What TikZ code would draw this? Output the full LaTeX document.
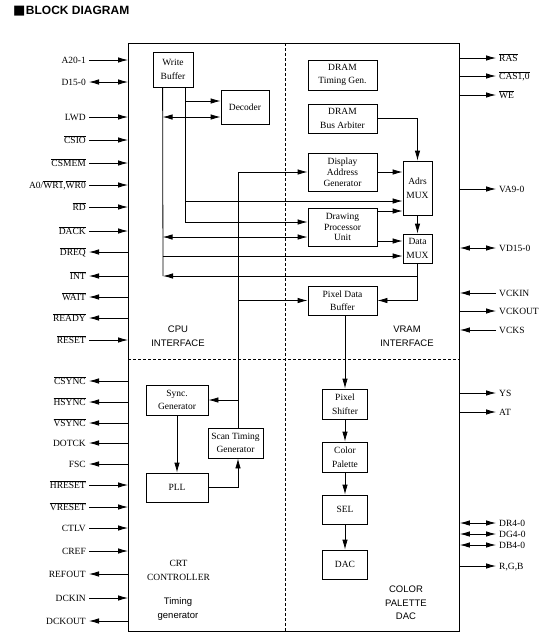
\documentclass[tikz,border=0pt]{standalone}
\usepackage{fontspec}
\setmainfont{Liberation Serif}
\setsansfont{Liberation Sans}
\newfontfamily\simbolos{DejaVu Sans}
\usepackage{tikz}
\usetikzlibrary{arrows.meta,calc,positioning}
\tikzset{
  >={Latex[length=10pt,width=5.5pt]},
  wire/.style={line width=0.8pt},
  tin/.style={wire,->},
  tout/.style={wire,<-},
  tbi/.style={wire,<->},
  blk/.style={draw,line width=0.8pt,inner sep=0pt,align=center,font=\fontsize{9.5}{13.5}\selectfont},
  blk3/.style={blk,font=\fontsize{9.5}{10.8}\selectfont},
  pinl/.style={anchor=east,inner sep=3pt,text height=7pt,text depth=0pt,font=\fontsize{9.5}{11}\selectfont},
  pinr/.style={pinl,anchor=west},
  zona/.style={align=center,font=\sffamily\fontsize{9.5}{14}\selectfont},
  zonaserif/.style={align=center,font=\fontsize{9.5}{14}\selectfont},
  corte/.style={dash pattern=on 3pt off 2pt,line width=0.7pt}
}
\newcommand{\ovl}[1]{$\overline{\mbox{#1}}$}

\begin{document}
\begin{tikzpicture}[x=1pt,y=-1pt]
\useasboundingbox (0,0) rectangle (547,641);
% titulo
\node[anchor=base west,inner sep=0pt,font=\sffamily\bfseries\fontsize{12}{14}\selectfont] (titulo) at (13,14) {{\simbolos\fontsize{13}{14}\selectfont ■}\kern0.5pt BLOCK DIAGRAM};
% chip
\node[draw,line width=0.9pt,anchor=north west,inner sep=0pt,minimum width=331pt,minimum height=588pt] (chip) at (128,43) {};
\coordinate (vcut) at (285,359);
\draw[corte] (vcut |- chip.north) -- (vcut |- chip.south);
\draw[corte] (vcut -| chip.west) -- (vcut -| chip.east);
% bloques CPU
\node[blk,minimum width=40pt,minimum height=35pt] (wbuf) at (173,69.5) {Write\\Buffer};
\node[blk,minimum width=48pt,minimum height=34pt] (dec) at (245,107) {Decoder};
% bloques VRAM
\node[blk,minimum width=69pt,minimum height=30pt] (dtg) at (342.5,75) {DRAM\\Timing Gen.};
\node[blk,minimum width=69pt,minimum height=29pt] (dba) at (342.5,118.5) {DRAM\\Bus Arbiter};
\node[blk3,minimum width=69pt,minimum height=38pt] (dag) at (342.5,172) {Display\\Address\\Generator};
\node[blk,minimum width=29pt,minimum height=54pt] (amux) at (417.5,188) {Adrs\\MUX};
\node[blk3,minimum width=69pt,minimum height=38pt] (dpu) at (342.5,227) {Drawing\\Processor\\Unit};
\node[blk,minimum width=29pt,minimum height=29pt] (dmux) at (417.5,248.5) {Data\\MUX};
\node[blk,minimum width=69pt,minimum height=29pt] (pdb) at (342.5,300.5) {Pixel Data\\Buffer};
% bloques paleta
\node[blk,minimum width=45pt,minimum height=30pt] (psh) at (345,404) {Pixel\\Shifter};
\node[blk,minimum width=45pt,minimum height=30pt] (cpal) at (345,457) {Color\\Palette};
\node[blk,minimum width=45pt,minimum height=29pt] (sel) at (345,509.5) {SEL};
\node[blk,minimum width=45pt,minimum height=29pt] (dac) at (345,564.5) {DAC};
% bloques CRT
\node[blk,minimum width=62pt,minimum height=30pt] (sync) at (177,400) {Sync.\\Generator};
\node[blk,minimum width=55pt,minimum height=30pt] (stg) at (235.5,443) {Scan Timing\\Generator};
\node[blk,minimum width=62pt,minimum height=29pt] (pll) at (177,487.5) {PLL};
% rotulos de zona
\node[zona] (cpulbl) at (178,336.6) {CPU\\INTERFACE};
\node[zona] (vramlbl) at (407,336.6) {VRAM\\INTERFACE};
\node[zonaserif] (crtlbl) at (178.5,569.9) {CRT\\CONTROLLER};
\node[zona] (timlbl) at (178,609.5) {Timing\\generator};
\node[zona,font=\sffamily\fontsize{9.5}{13.5}\selectfont] (paldac) at (406,603.1) {COLOR\\PALETTE\\DAC};
% puntos de conexion
\coordinate (wl) at ([xshift=10pt]wbuf.south west);
\coordinate (wr) at ([xshift=-8pt]wbuf.south east);
\coordinate (retorno) at (163,276);
\coordinate (deca) at ([yshift=6pt]dec.west);
\coordinate (decb) at ([yshift=-10pt]dec.west);
\coordinate (amuxb) at ([yshift=-13pt]amux.west);
\coordinate (dpua) at ([yshift=5pt]dpu.west);
\coordinate (dpub) at ([yshift=-10pt]dpu.west);
\coordinate (dpuc) at ([yshift=16pt]dpu.east);
\coordinate (dpud) at ([yshift=-14pt]dpu.east);
\coordinate (dmuxb) at ([yshift=-7.5pt]dmux.west);
\coordinate (stgtop) at ([xshift=2.5pt]stg.north);
\coordinate (stgbot) at ([xshift=2.5pt]stg.south);
% buses internos
\draw[wire] (wl) -- (retorno);
\draw[tin] (wr) |- (dpua);
\draw[tin] (wr |- deca) -- (deca);
\draw[tbi] (wl |- decb) -- (decb);
\draw[tin] (wr |- amuxb) -- (amuxb);
\draw[tbi] (wl |- dpub) -- (dpub);
\draw[tin] (wl |- dmuxb) -- (dmuxb);
\draw[tin] (dmux.south) |- (retorno);
\draw[tin] (dmux.south) |- (pdb.east);
\draw[tin] (dag.east) -- (dag.east -| amux.west);
\draw[tin] (dpuc) -- (dpuc -| amux.west);
\draw[tin] (dpud) -- (dpud -| dmux.west);
\draw[tin] (amux) -- (dmux);
\draw[tin] (dba.east) -| (amux.north);
\draw[tin] (psh.north |- pdb.south) -- (psh);
\draw[tin] (psh) -- (cpal);
\draw[tin] (cpal) -- (sel);
\draw[tin] (sel) -- (dac);
\draw[tin] (stgtop) |- (dag.west);
\draw[tin] (stgtop |- sync.east) -- (sync.east);
\draw[tin] (stgtop |- pdb.west) -- (pdb.west);
\draw[tin] (sync) -- (pll);
\draw[tin] (pll.east) -| (stgbot);
% pines izquierda
\foreach \y/\sig/\tip in {60/A20-1/tin,82/D15-0/tbi,117/LWD/tin,140/\ovl{CSIO}/tin,
  163/\ovl{CSMEM}/tin,185/{A0/\ovl{WR1},\ovl{WR0}}/tin,207/\ovl{RD}/tin,231/\ovl{DACK}/tin,
  252/\ovl{DREQ}/tout,276/\ovl{INT}/tout,297/\ovl{WAIT}/tout,318/\ovl{READY}/tout,
  340/\ovl{RESET}/tin,381/\ovl{CSYNC}/tout,402/\ovl{HSYNC}/tout,423/\ovl{VSYNC}/tout,
  443/DOTCK/tout,464/FSC/tout,485/\ovl{HRESET}/tin,507/\ovl{VRESET}/tin,528/CTLV/tin,
  551/CREF/tin,574/REFOUT/tout,598/DCKIN/tin,621/DCKOUT/tout}{
  \node[pinl] (L\y) at (89,\y) {\sig};
  \draw[\tip] (L\y.east) -- (L\y.east -| chip.west);
}
% pines derecha
\foreach \y/\sig/\tip in {58/\ovl{RAS}/tout,76/{\ovl{CAS1,0}}/tout,95/\ovl{WE}/tout,
  189/VA9-0/tout,248/VD15-0/tbi,293/VCKIN/tin,311/VCKOUT/tout,330/VCKS/tin,
  393/YS/tout,412/AT/tout,523/DR4-0/tbi,534/DG4-0/tbi,545/DB4-0/tbi,566/{R,G,B}/tout}{
  \node[pinr] (R\y) at (496,\y) {\sig};
  \draw[\tip] (R\y.west) -- (R\y.west -| chip.east);
}
\end{tikzpicture}
\end{document}
